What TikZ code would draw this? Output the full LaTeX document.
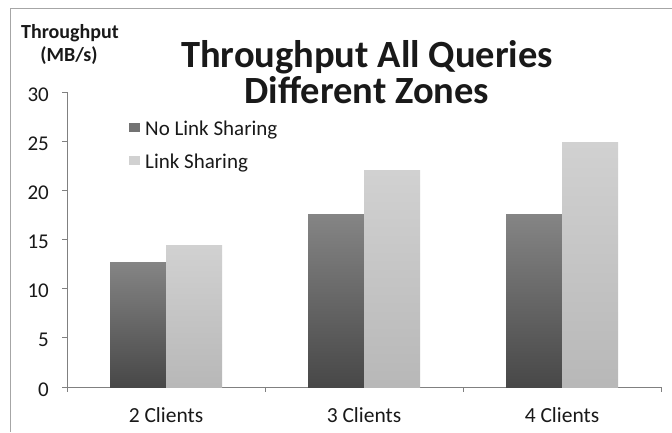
\documentclass[tikz,border=0pt]{standalone}
\usepackage{fontspec}
\setmainfont{Carlito}
\begin{document}
\begin{tikzpicture}[x=1pt,y=-1pt,
  txt/.style={inner sep=0pt, text=black!90},
  ticklbl/.style={txt, anchor=base east, font=\fontsize{21}{24}\selectfont},
  catlbl/.style={txt, anchor=base, font=\fontsize{21.5}{24}\selectfont},
  leglbl/.style={txt, anchor=base west, font=\fontsize{21}{24}\selectfont},
  titlelbl/.style={txt, anchor=base, font=\bfseries\fontsize{38.5}{44}\selectfont},
  axislbl/.style={txt, anchor=base, font=\bfseries\fontsize{20}{22}\selectfont},
  axisline/.style={draw=black!50, line width=0.9pt},
  frameline/.style={draw=black!35, line width=0.8pt},
  nolink/.style={bottom color=black!72, top color=black!48},
  withlink/.style={bottom color=black!28, top color=black!18}]

\useasboundingbox (0,0) rectangle (672,432);
\fill[white] (0,0) rectangle (672,432);

% chart frame (left and top edges)
\draw[frameline] (10,432) -- (10,8) -- (672,8);

% titles
\node[titlelbl] (title1) at (367,67) {Throughput All Queries};
\node[titlelbl] (title2) at (367,103) {Different Zones};
\node[axislbl] (ylab1) at (70,38) {Throughput};
\node[axislbl] (ylab2) at (69,61) {(MB/s)};

% value axis: y(v) = 387 - 9.833 v
\coordinate (origin) at (67,387);
\coordinate (ytop) at (67,92);
\coordinate (xend) at (661,387);
\draw[axisline] (ytop) -- (origin) -- (xend);
\foreach \v in {0,5,...,30}{
  \pgfmathsetmacro{\yy}{387-9.833*\v}
  \draw[axisline] (62,\yy) -- (67,\yy);
  \node[ticklbl] (tick\v) at (49,\yy+9) {\v};
}
% category separators
\foreach \xx in {67,265,463,661}
  \draw[axisline] (\xx,387) -- (\xx,392);

% bars: centre, no-link value, link value
\foreach \c/\a/\b/\n in {166/12.7/14.4/2, 364/17.5/22.0/3, 562/17.5/24.9/4}{
  \pgfmathsetmacro{\ya}{387-9.833*\a}
  \pgfmathsetmacro{\yb}{387-9.833*\b}
  \shade[nolink] (\c-56,\ya) rectangle (\c,387);
  \shade[withlink] (\c,\yb) rectangle (\c+56,387);
  \node[catlbl] (cat\n) at (\c,422) {\n{} Clients};
}

% legend
\fill[black!55] (129,123) rectangle (140,132);
\node[leglbl] (leg1) at (145,135) {No Link Sharing};
\fill[black!18] (129,156) rectangle (140,165);
\node[leglbl] (leg2) at (145,168) {Link Sharing};
\end{tikzpicture}
\end{document}
